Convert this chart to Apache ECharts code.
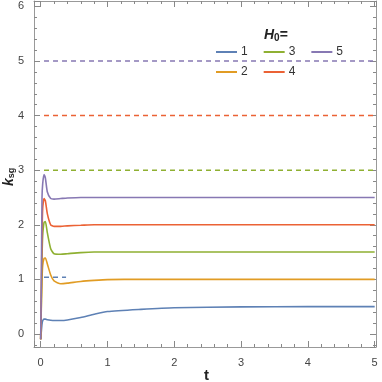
<!DOCTYPE html>
<html>
<head>
<meta charset="utf-8">
<script src="https://cdn.jsdelivr.net/npm/echarts@6/dist/echarts.min.js"></script>
<style>
  html, body { margin: 0; padding: 0; background: #fff; }
  #main { width: 382px; height: 382px; }
</style>
</head>
<body>
<div id="main"></div>
<script>
// time samples shared by all curves
var tVals = [0, 0.01, 0.02, 0.03, 0.05, 0.07, 0.1, 0.15, 0.2, 0.3, 0.4, 0.6, 0.8, 1, 1.5, 2, 3, 4, 5];
var h1 = [-0.1, 0.05, 0.18, 0.24, 0.27, 0.27, 0.26, 0.25, 0.245, 0.245, 0.255, 0.3, 0.36, 0.41, 0.45, 0.48, 0.495, 0.5, 0.5];
var h2 = [-0.1, 0.5, 1.0, 1.25, 1.38, 1.39, 1.28, 1.08, 0.97, 0.92, 0.93, 0.96, 0.98, 0.995, 1.0, 1.0, 1.0, 1.0, 1.0];
var h3 = [-0.1, 0.6, 1.4, 1.8, 2.04, 2.06, 1.85, 1.56, 1.47, 1.46, 1.47, 1.49, 1.5, 1.5, 1.5, 1.5, 1.5, 1.5, 1.5];
var h4 = [-0.1, 0.8, 1.8, 2.3, 2.48, 2.44, 2.2, 2.0, 1.97, 1.97, 1.98, 1.99, 2.0, 2.0, 2.0, 2.0, 2.0, 2.0, 2.0];
var h5 = [-0.1, 1.0, 2.5, 2.75, 2.92, 2.86, 2.6, 2.48, 2.47, 2.48, 2.49, 2.5, 2.5, 2.5, 2.5, 2.5, 2.5, 2.5, 2.5];
var names = ['1', '2', '3', '4', '5'];
var colors = ['#5E81B5', '#E19C24', '#8FB032', '#EB6235', '#8778B3'];

// dashed reference levels
var dashLevels = [5, 4, 3, 1.04];
var dashStart = [0.05, 0.05, 0.05, 0.05];
var dashEnd = [5, 5, 5, 0.38];
var dashColor = [4, 3, 2, 0];

function pairs(ys) {
  return tVals.map(function (t, i) { return [t, ys[i]]; });
}

var axisColor = '#999';
var font = 'Liberation Sans';

function frameAxis(pos, min, max, show) {
  return {
    type: 'value', position: pos, min: min, max: max, splitNumber: 6,
    axisLine: { show: true, onZero: false, lineStyle: { color: axisColor } },
    splitLine: { show: false },
    axisTick: { show: true, inside: true, length: 6, lineStyle: { color: '#888' } },
    minorTick: { show: true, splitNumber: 5, length: 3, lineStyle: { color: '#888' } },
    axisLabel: { show: show, showMinLabel: false, showMaxLabel: false, color: '#444', fontSize: 11, fontFamily: font, margin: 10 }
  };
}

var series = [];
dashLevels.forEach(function (lv, i) {
  series.push({
    type: 'line', silent: true, symbol: 'none',
    data: [[dashStart[i], lv], [dashEnd[i], lv]],
    lineStyle: { color: colors[dashColor[i]], width: 1.5, type: [5, 4] }
  });
});
[h1, h2, h3, h4, h5].forEach(function (ys, i) {
  series.push({
    name: names[i], type: 'line', symbol: 'none', smooth: 0.2,
    data: pairs(ys),
    itemStyle: { color: colors[i] },
    lineStyle: { color: colors[i], width: 1.6 }
  });
});

var legendText = { color: '#333', fontSize: 12, fontFamily: font, padding: [0, 0, 0, -1] };
var chart = echarts.init(document.getElementById('main'));
chart.setOption({
  animation: false,
  grid: { left: 34, right: 6, top: 1, bottom: 35 },
  xAxis: [frameAxis('bottom', -0.1, 5.02, true), frameAxis('top', -0.1, 5.02, false)],
  yAxis: [frameAxis('left', -0.24, 6.1, true), frameAxis('right', -0.24, 6.1, false)],
  legend: [
    { data: ['1', '3', '5'], left: 216, top: 46, padding: 0, itemWidth: 21, itemHeight: 2, itemGap: 16, icon: 'rect',
      textStyle: legendText },
    { data: ['2', '4'], left: 216, top: 66, padding: 0, itemWidth: 21, itemHeight: 2, itemGap: 16, icon: 'rect',
      textStyle: legendText }
  ],
  graphic: [
    { type: 'text', left: 264, top: 28,
      style: { text: '{h|H}{s|0}{e|=}', rich: {
        h: { fontSize: 14, fontWeight: 'bold', fontStyle: 'italic', fontFamily: font, fill: '#222' },
        s: { fontSize: 10, fontWeight: 'bold', fontFamily: font, fill: '#222', padding: [6, 0, 0, 0] },
        e: { fontSize: 14, fontWeight: 'bold', fontFamily: font, fill: '#222' } } } },
    { type: 'text', x: 2, y: 186, rotation: Math.PI / 2,
      style: { text: '{k|k}{s|sg}', rich: {
        k: { fontSize: 14, fontWeight: 'bold', fontStyle: 'italic', fontFamily: font, fill: '#222', lineHeight: 14 },
        s: { fontSize: 9, fontWeight: 'bold', fontFamily: font, fill: '#222', padding: [5, 0, 0, 0] } } } },
    { type: 'text', left: 204, top: 368,
      style: { text: 't', fontSize: 15, fontWeight: 'bold', fontFamily: font, fill: '#222' } }
  ],
  series: series
});
</script>
</body>
</html>
